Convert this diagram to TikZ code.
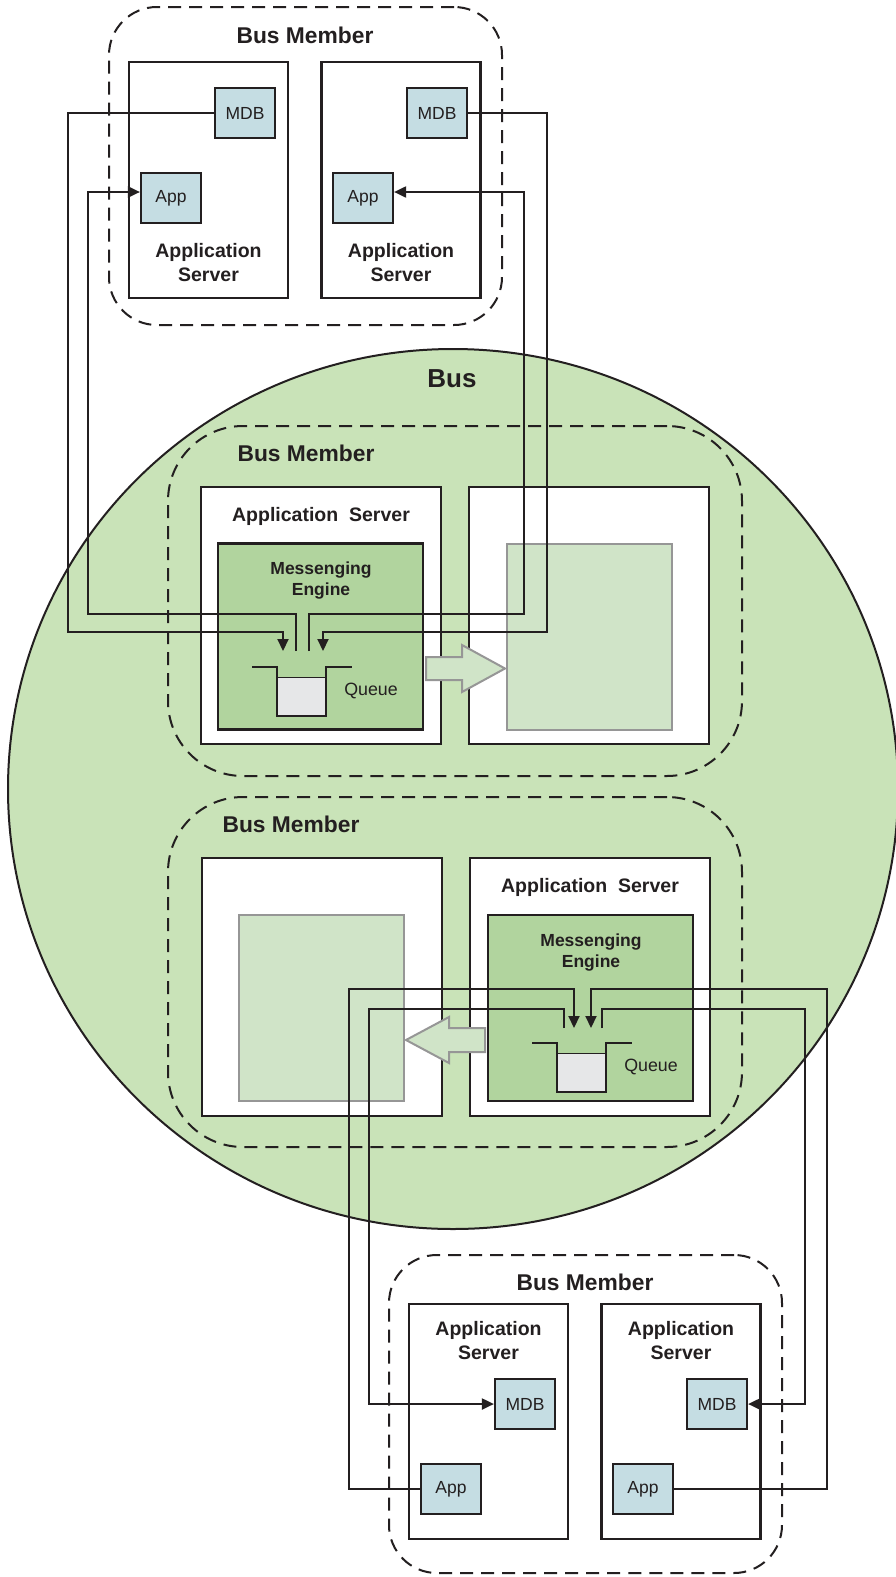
\documentclass[tikz,border=0pt]{standalone}
\usepackage{fontspec}
\setmainfont{Liberation Sans}
\usetikzlibrary{arrows.meta,shapes.geometric}
\definecolor{busgreen}{RGB}{201,227,184}
\definecolor{megreen}{RGB}{177,212,158}
\definecolor{palegreen}{RGB}{208,228,200}
\definecolor{compblue}{RGB}{197,221,227}
\definecolor{qgray}{RGB}{230,231,232}
\definecolor{ink}{RGB}{35,31,32}
\definecolor{ghostgray}{RGB}{150,150,150}
\begin{document}
\begin{tikzpicture}[x=1pt,y=-1pt,>={Triangle[length=12pt,width=11pt]},
  every node/.style={text=ink},
  member/.style={draw=ink,line width=2pt,dash pattern=on 13pt off 8pt,rounded corners=#1,inner sep=0pt},
  member/.default=48pt,
  server/.style={draw=ink,fill=white,line width=2.2pt,inner sep=0pt},
  engine/.style={draw=ink,fill=megreen,line width=2.2pt,inner sep=0pt,minimum width=205pt,minimum height=186pt},
  ghost/.style={draw=ghostgray,fill=palegreen,line width=2pt,inner sep=0pt,minimum width=165pt,minimum height=186pt},
  comp/.style={draw=ink,fill=compblue,line width=2.2pt,minimum width=60pt,minimum height=50pt,inner sep=0pt,font=\fontsize{17.5}{21}\selectfont},
  conn/.style={draw=ink,line width=2pt},
  movearrow/.style={draw=ghostgray,fill=palegreen,line width=2pt,line join=miter},
  title/.style={font=\bfseries\fontsize{22.8}{27}\selectfont},
  srvtext/.style={font=\bfseries\fontsize{19.5}{24}\selectfont,align=center},
  metext/.style={font=\bfseries\fontsize{17.5}{21}\selectfont,align=center},
  qtext/.style={font=\fontsize{17.8}{21}\selectfont}]
  \useasboundingbox (0,0) rectangle (896,1577);
  \fill[white] (0,0) rectangle (896,1577);
  \node[draw=ink,line width=2pt,fill=busgreen,ellipse,minimum width=890pt,minimum height=880pt,inner sep=0pt] (bus) at (453,789) {};
  \node[font=\bfseries\fontsize{26}{30}\selectfont] (buslbl) at (452,379) {Bus};
  % bus members
  \node[member,minimum width=393pt,minimum height=318pt] (bmT) at (305.5,166) {};
  \node[member=75pt,minimum width=574pt,minimum height=350pt] (bmA) at (455,601) {};
  \node[member=75pt,minimum width=574pt,minimum height=350pt] (bmB) at (455,972) {};
  \node[member,minimum width=393pt,minimum height=318pt] (bmD) at (585.5,1414) {};
  \node[title] (bmTl) at (305,35) {Bus Member};
  \node[title] (bmAl) at (306,453) {Bus Member};
  \node[title] (bmBl) at (291,824) {Bus Member};
  \node[title] (bmDl) at (585,1282) {Bus Member};
  % application servers
  \foreach \n/\x in {TL/208.5,TR/401} {
    \node[server,minimum width=159pt,minimum height=236pt] (srv\n) at (\x,180) {};
    \node[srvtext] at (\x,263) {Application\\Server};
  }
  \foreach \n/\x in {BL/488.5,BR/681} {
    \node[server,minimum width=159pt,minimum height=235pt] (srv\n) at (\x,1421.5) {};
    \node[srvtext] at (\x,1341) {Application\\Server};
  }
  \node[server,minimum width=240pt,minimum height=257pt] (srvAL) at (321,615.5) {};
  \node[server,minimum width=240pt,minimum height=257pt] (srvAR) at (589,615.5) {};
  \node[server,minimum width=240pt,minimum height=258pt] (srvBL) at (322,987) {};
  \node[server,minimum width=240pt,minimum height=258pt] (srvBR) at (590,987) {};
  \node[srvtext] at (321,516) {Application\ \ Server};
  \node[srvtext] at (590,887) {Application\ \ Server};
  \node[ghost] (gA) at (589.5,637) {};
  \node[ghost] (gB) at (321.5,1008) {};
  \node[engine] (meA) at (320.5,636.5) {};
  \node[engine] (meB) at (590.5,1008) {};
  \node[metext] at (321,580.5) {Messenging\\Engine};
  \node[metext] at (591,952.5) {Messenging\\Engine};
  % queues
  \foreach \n/\qx/\qy in {A/301.5/667,B/581.5/1043} {
    \node[draw=ink,line width=1pt,fill=qgray,minimum width=49pt,minimum height=39pt,inner sep=0pt] (q\n) at (\qx,\qy+29.5) {};
    \draw[ink,line width=2.2pt] (\qx-49.5,\qy) -- (\qx-24.5,\qy) -- (\qx-24.5,\qy+49) -- (\qx+24.5,\qy+49) -- (\qx+24.5,\qy) -- (\qx+50.5,\qy);
    \node[qtext] at (\qx+69.5,\qy+24) {Queue};
  }
  \draw[movearrow] (426,657) -- (462,657) -- (462,645) -- (505,668.5) -- (462,692) -- (462,680) -- (426,680) -- cycle;
  \draw[movearrow] (485,1028) -- (449,1028) -- (449,1017) -- (406,1040) -- (449,1063) -- (449,1052) -- (485,1052) -- cycle;
  % MDB and App
  \node[comp] (mdbTL) at (245,113) {MDB};
  \node[comp] (appTL) at (171,198) {App};
  \node[comp] (mdbTR) at (437,113) {MDB};
  \node[comp] (appTR) at (363,198) {App};
  \node[comp] (mdbBL) at (525,1404) {MDB};
  \node[comp] (appBL) at (451,1489) {App};
  \node[comp] (mdbBR) at (717,1404) {MDB};
  \node[comp] (appBR) at (643,1489) {App};
  \coordinate (qA1) at (283,651); \coordinate (qA2) at (296,651); \coordinate (qA3) at (309,651); \coordinate (qA4) at (323,651);
  \coordinate (qB1) at (564,1028); \coordinate (qB2) at (574,1028); \coordinate (qB3) at (591,1028); \coordinate (qB4) at (602,1028);
  \draw[conn,->] (mdbTL.west) -| (68,632) -| (qA1);
  \draw[conn,->] (qA2) |- (88,614) |- ([yshift=6pt]appTL.west);
  \draw[conn,->] (qA3) |- (524,614) |- ([yshift=6pt]appTR.east);
  \draw[conn,->] (mdbTR.east) -| (547,632) -| (qA4);
  \draw[conn,->] (appBL.west) -| (349,989) -| (qB2);
  \draw[conn,->] (qB1) |- (369,1009) |- (mdbBL.west);
  \draw[conn,->] (appBR.east) -| (827,989) -| (qB3);
  \draw[conn,->] (qB4) |- (805,1009) |- (mdbBR.east);
\end{tikzpicture}
\end{document}
